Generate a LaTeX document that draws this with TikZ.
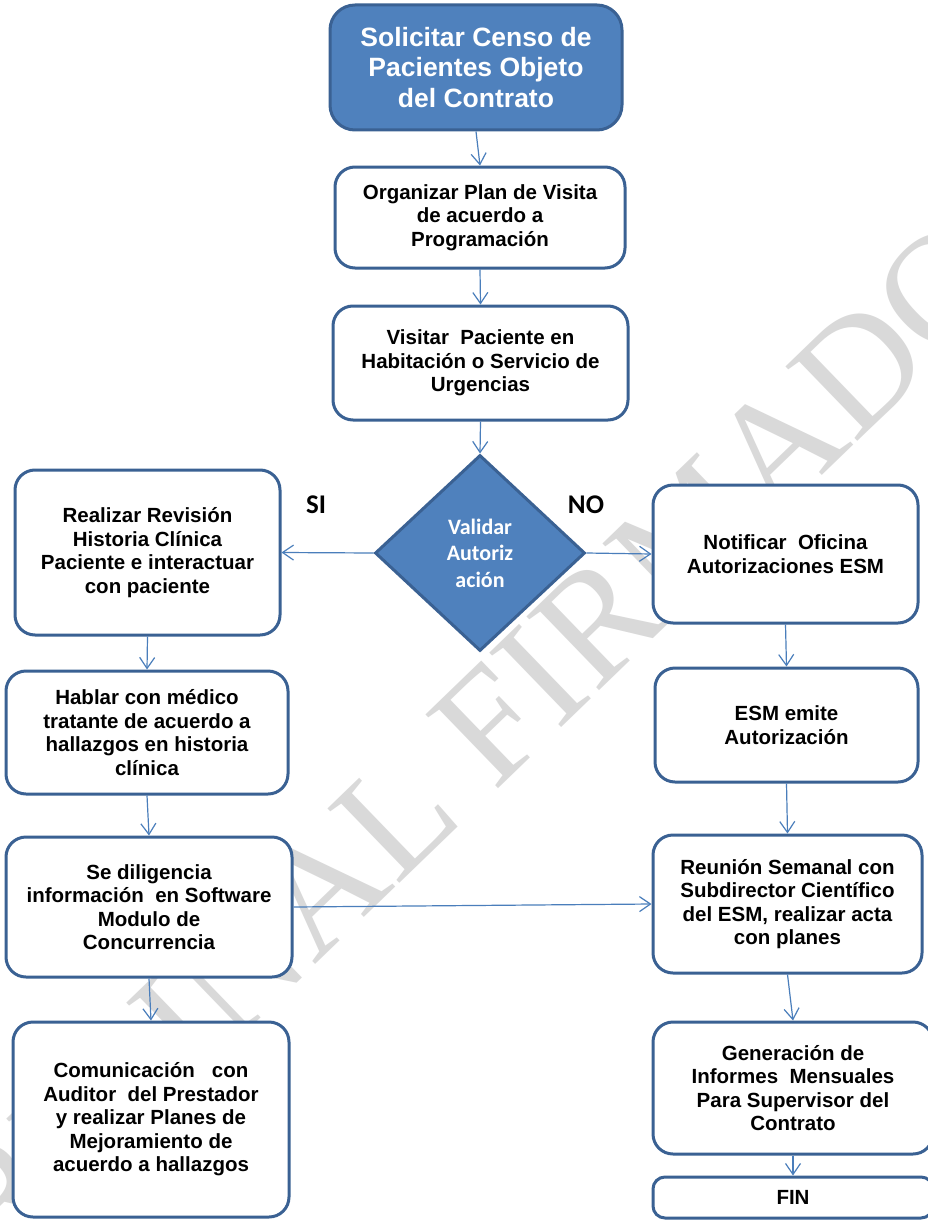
\documentclass[tikz,border=0pt]{standalone}
\usepackage{fontspec}
\setmainfont{Liberation Sans}
\newfontfamily\calib{Carlito}
\newfontfamily\wmfont{Liberation Serif}
\usetikzlibrary{shapes.geometric,arrows.meta}
\definecolor{accent}{HTML}{4F81BD}
\definecolor{edgeblue}{HTML}{3A6193}
\definecolor{linkblue}{HTML}{4A7EBB}
\definecolor{wmgray}{HTML}{D9D9D9}
\tikzset{
  procbox/.style={draw=edgeblue, line width=3pt, fill=white, rounded corners=20pt,
    align=center, inner sep=0pt, font=\bfseries\fontsize{20.5}{23.5}\selectfont},
  startbox/.style={procbox, fill=accent, text=white, rounded corners=25pt,
    font=\bfseries\fontsize{26.5}{30.5}\selectfont},
  decision/.style={diamond, draw=edgeblue, line width=3pt, fill=accent, text=white,
    inner sep=0pt, align=center, font=\calib\bfseries\fontsize{22}{26.5}\selectfont},
  branchlabel/.style={font=\calib\bfseries\fontsize{27}{30}\selectfont},
  link/.style={draw=linkblue, line width=1.2pt, -{Straight Barb[length=11pt,width=15pt,line width=1.2pt]}},
  watermark/.style={text=wmgray, font=\wmfont\fontsize{158}{160}\selectfont, inner sep=0pt}
}
\begin{document}
\begin{tikzpicture}[x=1pt,y=-1pt]
\useasboundingbox (0,0) rectangle (927,1220);
\fill[white] (0,0) rectangle (927,1220);
% watermark
\node[watermark, rotate=44, anchor=base] (wm) at (468,818) {ORIGINAL FIRMADO};

% top chain
\node[startbox, minimum width=292pt, minimum height=125pt] (sol) at (476,67.5)
  {Solicitar Censo de\\Pacientes Objeto\\del Contrato};
\node[procbox, minimum width=290pt, minimum height=101pt] (org) at (480,217.5)
  {Organizar Plan de Visita\\de acuerdo a\\Programación};
\node[procbox, minimum width=295pt, minimum height=114pt] (vis) at (480.5,363)
  {Visitar\ \ Paciente en\\Habitación o Servicio de\\Urgencias};
\node[decision, minimum width=210pt, minimum height=196pt] (dia) at (480,553)
  {Validar\\Autoriz\\ación};

% left column
\node[procbox, minimum width=265pt, minimum height=165pt] (rea) at (147.5,552.5)
  {Realizar Revisión\\Historia Clínica\\Paciente e interactuar\\con paciente};
\node[procbox, minimum width=282pt, minimum height=123pt] (hab) at (147,732.5)
  {Hablar con médico\\tratante de acuerdo a\\hallazgos en historia\\clínica};
\node[procbox, minimum width=286pt, minimum height=140pt] (sed) at (149,907)
  {Se diligencia\\información\ \ en Software\\Modulo de\\Concurrencia};
\node[procbox, minimum width=276pt, minimum height=195pt] (com) at (151,1119.5)
  {Comunicación\ \ \ con\\Auditor\ \ del Prestador\\y realizar Planes de\\Mejoramiento de\\acuerdo a hallazgos};

% right column
\node[procbox, minimum width=265pt, minimum height=138pt] (not) at (785.5,554)
  {Notificar\ \ Oficina\\Autorizaciones ESM};
\node[procbox, minimum width=263pt, minimum height=114pt] (esm) at (786.5,725)
  {ESM emite\\Autorización};
\node[procbox, minimum width=269pt, minimum height=138pt] (reu) at (787.5,904)
  {Reunión Semanal con\\Subdirector Científico\\del ESM, realizar acta\\con planes};
\node[procbox, minimum width=280pt, minimum height=132pt] (gen) at (793,1088)
  {Generación de\\Informes\ \ Mensuales\\Para Supervisor del\\Contrato};
\node[procbox, rounded corners=12pt, minimum width=280pt, minimum height=41pt] (fin) at (793,1197.5)
  {FIN};

% branch labels
\node[branchlabel] (si) at (316,505) {SI};
\node[branchlabel] (no) at (586,505) {NO};

% connectors
\draw[link] (sol.south) -- (org.north);
\draw[link] (org.south) -- (vis.north);
\draw[link] (vis.south) -- (dia.north);
\draw[link] (dia.west) -- (rea.east);
\draw[link] (dia.east) -- (not.west);
\draw[link] (rea.south) -- (hab.north);
\draw[link] (hab.south) -- (sed.north);
\draw[link] (sed.south) -- (com.north);
\draw[link] (sed.east) -- (reu.west);
\draw[link] (not.south) -- (esm.north);
\draw[link] (esm.south) -- (reu.north);
\draw[link] (reu.south) -- (gen.north);
\draw[link] (gen.south) -- (fin.north);
\end{tikzpicture}
\end{document}
